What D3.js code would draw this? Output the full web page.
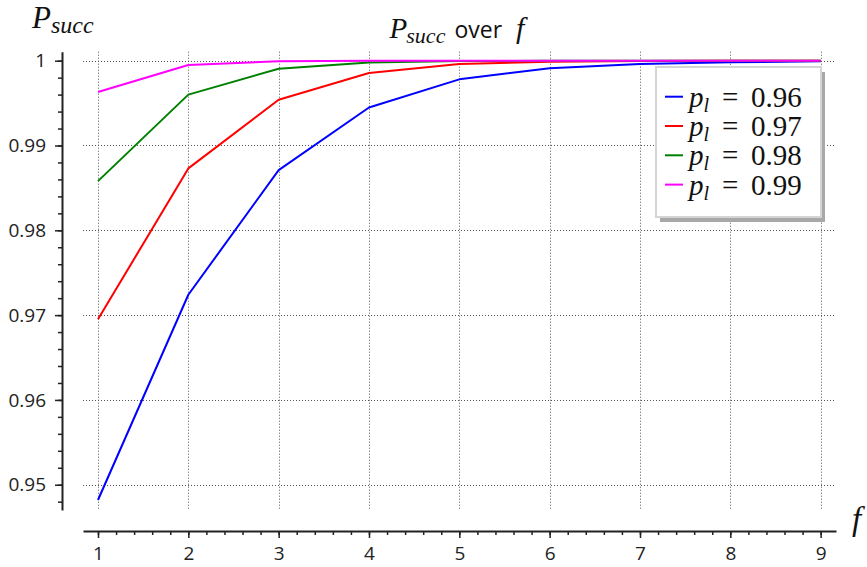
<!DOCTYPE html>
<html>
<head>
<meta charset="utf-8">
<script src="https://cdn.jsdelivr.net/npm/d3@7"></script>
<style>
  body { margin: 0; background: #fff; }
  svg { display: block; }
  .tick text { font-family: "Open Sans", "DejaVu Sans", sans-serif; font-size: 19px; fill: #222; }
</style>
</head>
<body>
<svg id="chart" width="867" height="567"></svg>
<script>
// f values on the horizontal axis
const fValues = [1, 2, 3, 4, 5, 6, 7, 8, 9];

// P_succ for each link probability p_l
const pSucc096 = [0.9482, 0.9724, 0.9871, 0.99448, 0.99780, 0.99911, 0.99962, 0.99982, 0.99992];
const pSucc097 = [0.9695, 0.9873, 0.9954, 0.99855, 0.99960, 0.99988, 0.99996, 0.99999, 1.0];
const pSucc098 = [0.9858, 0.9960, 0.99905, 0.99978, 0.99995, 0.99999, 1.0, 1.0, 1.0];
const pSucc099 = [0.9963, 0.99949, 0.99993, 0.99999, 1.0, 1.0, 1.0, 1.0, 1.0];

const seriesValues = [pSucc096, pSucc097, pSucc098, pSucc099];
const seriesLabels = ["0.96", "0.97", "0.98", "0.99"];

const yTickValues = [0.95, 0.96, 0.97, 0.98, 0.99, 1.0];
const yTickLabels = ["0.95", "0.96", "0.97", "0.98", "0.99", "1"];
const xTickValues = [1, 2, 3, 4, 5, 6, 7, 8, 9];
const xTickLabels = ["1", "2", "3", "4", "5", "6", "7", "8", "9"];

// styling
const lineColors = ["#0000ff", "#ff0000", "#008000", "#ff00ff"];
const serif = "Liberation Serif, DejaVu Serif, serif";
const sans = "Open Sans, DejaVu Sans, sans-serif";

const svg = d3.select("#chart");

// plotting region (grid extent) and offset axes
const x = d3.scaleLinear().domain([0.834, 9.17]).range([83, 836]);
const y = d3.scaleLinear().domain([0.94702, 1.00106]).range([510, 51.7]);
const yAxisX = 62;
const xAxisY = 531;

// dotted grid
const grid = svg.append("g").attr("stroke", "#555").attr("stroke-width", 1)
  .attr("stroke-dasharray", "1,2").attr("fill", "none");
grid.selectAll("line.v").data(xTickValues).join("line").attr("class", "v")
  .attr("x1", d => Math.round(x(d)) + 0.5).attr("x2", d => Math.round(x(d)) + 0.5)
  .attr("y1", y.range()[1]).attr("y2", y.range()[0]);
grid.selectAll("line.h").data(yTickValues).join("line").attr("class", "h")
  .attr("y1", d => Math.round(y(d)) + 0.5).attr("y2", d => Math.round(y(d)) + 0.5)
  .attr("x1", x.range()[0]).attr("x2", x.range()[1]);

// y axis: major ticks with labels, minor ticks every 0.002
const yMinor = d3.range(0, 27).map(i => +(0.948 + i * 0.002).toFixed(3));
svg.append("g").attr("transform", `translate(${yAxisX},0)`)
  .call(d3.axisLeft(y).tickValues(yMinor).tickSize(4).tickSizeOuter(0).tickFormat(""))
  .call(g => g.select(".domain").remove())
  .call(g => g.selectAll("line").attr("stroke", "#222").attr("stroke-width", 1.5));
svg.append("g").attr("transform", `translate(${yAxisX},0)`)
  .call(d3.axisLeft(y).tickValues(yTickValues).tickSize(7).tickSizeOuter(0).tickPadding(9)
    .tickFormat((d, i) => yTickLabels[i]))
  .call(g => g.select(".domain").attr("stroke", "#222").attr("stroke-width", 2))
  .call(g => g.selectAll("line").attr("stroke", "#222").attr("stroke-width", 1.5));

// x axis: major ticks with labels, minor ticks every 0.2
const xMinor = d3.range(0, 41).map(i => +(1 + i * 0.2).toFixed(1));
svg.append("g").attr("transform", `translate(0,${xAxisY})`)
  .call(d3.axisBottom(x).tickValues(xMinor).tickSize(4).tickSizeOuter(0).tickFormat(""))
  .call(g => g.select(".domain").remove())
  .call(g => g.selectAll("line").attr("stroke", "#222").attr("stroke-width", 1.5));
svg.append("g").attr("transform", `translate(0,${xAxisY})`)
  .call(d3.axisBottom(x).tickValues(xTickValues).tickSize(7).tickSizeOuter(0).tickPadding(9)
    .tickFormat((d, i) => xTickLabels[i]))
  .call(g => g.select(".domain").attr("stroke", "#222").attr("stroke-width", 2))
  .call(g => g.selectAll("line").attr("stroke", "#222").attr("stroke-width", 1.5));

// series lines
const line = d3.line().x((d, i) => x(fValues[i])).y(d => y(d));
svg.append("g").selectAll("path").data(seriesValues).join("path")
  .attr("d", d => line(d))
  .attr("fill", "none")
  .attr("stroke", (d, i) => lineColors[i])
  .attr("stroke-width", 2)
  .attr("stroke-linejoin", "round");

// title: P_succ over f
const title = svg.append("text").attr("x", 457).attr("y", 38)
  .attr("text-anchor", "middle").attr("fill", "#111");
title.append("tspan").attr("font-family", serif).attr("font-style", "italic")
  .attr("font-size", 29).text("P");
title.append("tspan").attr("font-family", serif).attr("font-style", "italic")
  .attr("font-size", 22).attr("dy", 5).attr("dx", -1).text("succ");
title.append("tspan").attr("font-family", sans).attr("font-size", 23)
  .attr("dy", -5).attr("dx", 9).text("over");
title.append("tspan").attr("font-family", serif).attr("font-style", "italic")
  .attr("font-size", 30).attr("dx", 14).text("f");

// y axis label
const yLabel = svg.append("text").attr("x", 32).attr("y", 28).attr("fill", "#111");
yLabel.append("tspan").attr("font-family", serif).attr("font-style", "italic")
  .attr("font-size", 31).text("P");
yLabel.append("tspan").attr("font-family", serif).attr("font-style", "italic")
  .attr("font-size", 24).attr("dy", 5).attr("dx", 0).text("succ");

// x axis label
svg.append("text").attr("x", 852).attr("y", 530).attr("fill", "#111")
  .attr("font-family", serif).attr("font-style", "italic").attr("font-size", 33).text("f");

// legend with drop shadow
const legend = svg.append("g").attr("transform", "translate(656,67)");
legend.append("rect").attr("x", 4).attr("y", 5).attr("width", 165).attr("height", 150)
  .attr("fill", "#a8a8a8");
legend.append("rect").attr("x", 0).attr("y", 0).attr("width", 165).attr("height", 150)
  .attr("fill", "#fff").attr("stroke", "#d4d4d4").attr("stroke-width", 2);
const entries = legend.selectAll("g.entry").data(seriesLabels).join("g").attr("class", "entry")
  .attr("transform", (d, i) => `translate(0,${29.7 + i * 29.3})`);
entries.append("line").attr("x1", 9).attr("x2", 27).attr("y1", 0).attr("y2", 0)
  .attr("stroke", (d, i) => lineColors[i]).attr("stroke-width", 2);
const lt = entries.append("text").attr("x", 33).attr("y", 10).attr("fill", "#111")
  .attr("font-family", serif).attr("font-size", 29);
lt.append("tspan").attr("font-style", "italic").text("p");
lt.append("tspan").attr("font-style", "italic").attr("font-size", 20).attr("dy", 5).text("l");
lt.append("tspan").attr("x", 66).attr("dy", -5).text("=");
lt.append("tspan").attr("x", 95).text(d => d);
</script>
</body>
</html>
